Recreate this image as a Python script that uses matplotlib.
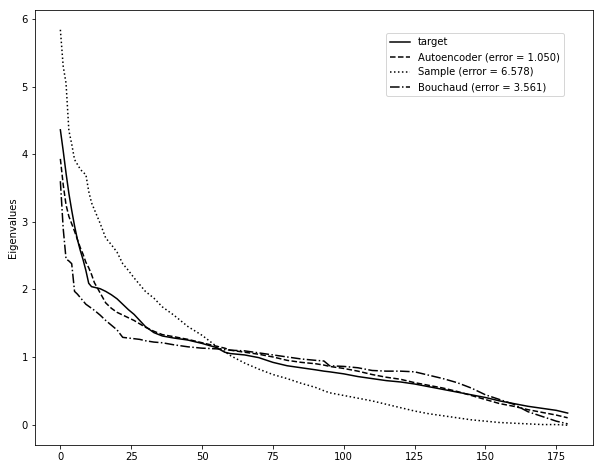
import numpy as np
import matplotlib
matplotlib.use("Agg")
import matplotlib.pyplot as plt

idx = [0, 1, 2, 3, 4, 5, 6, 7, 8, 9, 10, 11, 12, 14, 16, 18, 20, 22, 24, 26, 28, 30,
       33, 36, 40, 45, 50, 55, 58, 60, 65, 70, 75, 80, 85, 90, 93, 95, 100, 105, 110,
       115, 120, 125, 130, 135, 140, 145, 150, 155, 160, 165, 170, 175, 179]

target = [4.36, 4.05, 3.72, 3.42, 3.17, 2.94, 2.74, 2.58, 2.44, 2.28, 2.09, 2.04, 2.03,
          2.01, 1.97, 1.92, 1.86, 1.78, 1.70, 1.63, 1.54, 1.45, 1.36, 1.31, 1.28, 1.25,
          1.20, 1.14, 1.07, 1.05, 1.03, 0.99, 0.92, 0.87, 0.84, 0.81, 0.79, 0.78, 0.75,
          0.71, 0.68, 0.65, 0.63, 0.60, 0.56, 0.52, 0.48, 0.44, 0.40, 0.35, 0.31, 0.27,
          0.24, 0.21, 0.17]

autoencoder = [3.93, 3.55, 3.25, 3.08, 2.97, 2.86, 2.74, 2.62, 2.52, 2.40, 2.32, 2.22,
               2.10, 1.95, 1.80, 1.72, 1.66, 1.62, 1.58, 1.54, 1.49, 1.44, 1.38, 1.33,
               1.30, 1.26, 1.21, 1.16, 1.13, 1.10, 1.07, 1.04, 1.00, 0.95, 0.92, 0.90,
               0.88, 0.86, 0.83, 0.79, 0.74, 0.70, 0.67, 0.62, 0.58, 0.54, 0.49, 0.43,
               0.37, 0.31, 0.27, 0.22, 0.18, 0.14, 0.10]

sample = [5.84, 5.30, 5.05, 4.35, 4.15, 3.92, 3.85, 3.78, 3.73, 3.70, 3.45, 3.28, 3.18,
          2.98, 2.76, 2.66, 2.55, 2.38, 2.28, 2.17, 2.07, 1.97, 1.87, 1.74, 1.62, 1.45,
          1.32, 1.16, 1.08, 1.02, 0.91, 0.82, 0.74, 0.68, 0.61, 0.55, 0.50, 0.47, 0.43,
          0.39, 0.35, 0.30, 0.25, 0.20, 0.16, 0.13, 0.10, 0.07, 0.05, 0.03, 0.02, 0.01,
          0.00, 0.00, -0.01]

bouchaud = [3.60, 2.90, 2.45, 2.42, 2.38, 1.97, 1.93, 1.88, 1.83, 1.78, 1.75, 1.72,
            1.69, 1.62, 1.54, 1.47, 1.40, 1.29, 1.28, 1.27, 1.26, 1.24, 1.22, 1.21,
            1.18, 1.15, 1.13, 1.12, 1.11, 1.10, 1.09, 1.06, 1.03, 1.00, 0.97, 0.95,
            0.94, 0.87, 0.86, 0.84, 0.80, 0.79, 0.79, 0.78, 0.73, 0.68, 0.62, 0.54,
            0.44, 0.37, 0.30, 0.19, 0.12, 0.05, 0.01]

labels = ["target", "Autoencoder (error = 1.050)", "Sample (error = 6.578)",
          "Bouchaud (error = 3.561)"]

fig = plt.figure(figsize=(603 / 72, 469 / 72), dpi=72)
ax = fig.add_axes([35 / 603, 24 / 469, 558 / 603, 435 / 469])

ax.plot(idx, target, 'k-', lw=1.5, label=labels[0])
ax.plot(idx, autoencoder, 'k--', lw=1.5, label=labels[1])
ax.plot(idx, sample, 'k:', lw=1.5, label=labels[2])
ax.plot(idx, bouchaud, 'k-.', lw=1.5, label=labels[3])

ax.set_ylabel("Eigenvalues")
ax.set_xticks([0, 25, 50, 75, 100, 125, 150, 175])
ax.legend(loc='upper right', bbox_to_anchor=(0.957, 0.958))

fig.savefig("out.png", dpi=72)
